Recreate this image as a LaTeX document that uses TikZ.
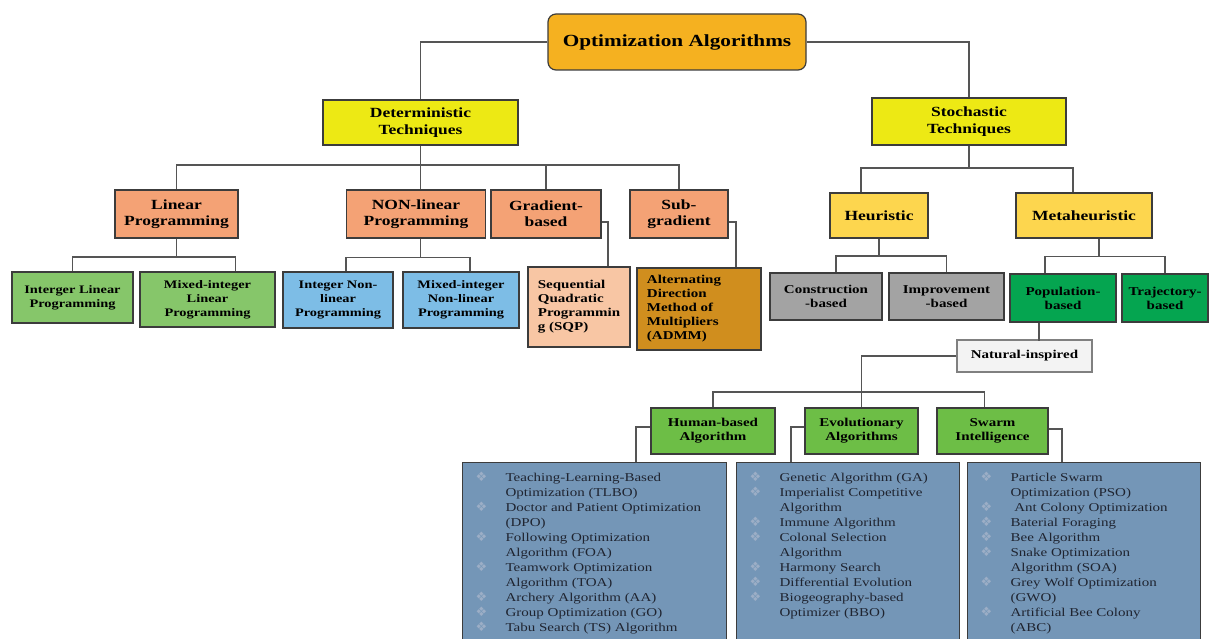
\documentclass[tikz,border=0pt]{standalone}
\usepackage{fontspec}
\setmainfont{Liberation Serif}[FakeStretch=1.25]
\newfontfamily\symfont{DejaVu Sans}
\usepackage{tikz}
\usetikzlibrary{positioning}
\usepackage{xcolor}

\definecolor{titleorange}{HTML}{F5B120}
\definecolor{detyellow}{HTML}{EDE914}
\definecolor{salmon}{HTML}{F4A275}
\definecolor{litegreen}{HTML}{86C66A}
\definecolor{liteblue}{HTML}{7DBDE6}
\definecolor{peach}{HTML}{F8C6A4}
\definecolor{admmgold}{HTML}{D08E1E}
\definecolor{heuyellow}{HTML}{FDD64E}
\definecolor{boxgray}{HTML}{A3A3A3}
\definecolor{darkgreen}{HTML}{05A550}
\definecolor{natwhite}{HTML}{F3F3F3}
\definecolor{hgreen}{HTML}{6DBE46}
\definecolor{listblue}{HTML}{7496B7}
\definecolor{boxline}{HTML}{3C3C3C}
\definecolor{linkgray}{HTML}{555555}
\definecolor{bulcol}{HTML}{9CAEC6}
\definecolor{listtext}{HTML}{1F2430}

\newcommand{\fTitle}{\fontsize{17}{20}\selectfont\bfseries}
\newcommand{\fTwo}{\fontsize{14}{17}\selectfont\bfseries}
\newcommand{\fThree}{\fontsize{14}{16}\selectfont\bfseries}
\newcommand{\fFour}{\fontsize{11.5}{14}\selectfont\bfseries}
\newcommand{\fFive}{\fontsize{12}{14}\selectfont\bfseries}
\newcommand{\fList}{\fontsize{12}{15}\selectfont}
\newcommand{\lbul}{{\symfont\fontsize{13}{13}\selectfont\textcolor{bulcol}{\char"2756}}}

\begin{document}
\begin{tikzpicture}[x=1pt,y=-1pt,
    box/.style={draw=boxline, line width=1.2pt, align=center, inner sep=2pt, text=black},
    link/.style={draw=linkgray, line width=1.8pt},
    listbox/.style={draw=boxline, line width=1.2pt, fill=listblue, anchor=north west,
        inner xsep=13pt, inner ysep=8pt, text=listtext, font=\fList}]

        % Canvas
        \useasboundingbox (0,0) rectangle (1213,639);
        \fill[white] (0,0) rectangle (1213,639);

        % Title
        \node[box, fill=titleorange, rounded corners=8pt, minimum width=258pt, minimum height=56pt, font=\fTitle]
            (opt) at (677,42) {Optimization Algorithms};

        % Second level
        \node[box, fill=detyellow, minimum width=195pt, minimum height=45pt, font=\fTwo]
            (det) at (420.5,122.5) {Deterministic\\Techniques};
        \node[box, fill=detyellow, minimum width=194pt, minimum height=47pt, font=\fTwo]
            (sto) at (969,121.5) {Stochastic\\Techniques};

        % Deterministic branch
        \node[box, fill=salmon, minimum width=123pt, minimum height=48pt, font=\fThree]
            (lin) at (176.5,214) {Linear\\Programming};
        \node[box, fill=salmon, minimum width=139pt, minimum height=48pt, font=\fThree]
            (nonlin) at (416,214) {NON-linear\\Programming};
        \node[box, fill=salmon, minimum width=110pt, minimum height=48pt, font=\fThree]
            (grad) at (546,214) {Gradient-\\based};
        \node[box, fill=salmon, minimum width=98pt, minimum height=48pt, font=\fThree]
            (sub) at (679,214) {Sub-\\gradient};

        \node[box, fill=litegreen, minimum width=121pt, minimum height=51pt, font=\fFour]
            (ilp) at (72.5,297.5) {Interger Linear\\Programming};
        \node[box, fill=litegreen, minimum width=135pt, minimum height=55pt, font=\fFour]
            (milp) at (207.5,299.5) {Mixed-integer\\Linear\\Programming};
        \node[box, fill=liteblue, minimum width=110pt, minimum height=56pt, font=\fFour]
            (inlp) at (338,300) {Integer Non-\\linear\\Programming};
        \node[box, fill=liteblue, minimum width=116pt, minimum height=56pt, font=\fFour]
            (minlp) at (461,300) {Mixed-integer\\Non-linear\\Programming};
        \node[box, fill=peach, minimum width=102pt, minimum height=80pt, align=left, inner sep=4pt, font=\fFive]
            (sqp) at (579,307) {Sequential\\Quadratic\\Programmin\\g (SQP)\hspace*{14pt}};
        \node[box, fill=admmgold, minimum width=124pt, minimum height=82pt, align=left, inner sep=4pt, font=\fFive]
            (admm) at (699,309) {Alternating\hspace*{30pt}\\Direction\\Method of\\Multipliers\\(ADMM)};

        % Stochastic branch
        \node[box, fill=heuyellow, minimum width=98pt, minimum height=45pt, font=\fThree]
            (heu) at (879,215.5) {Heuristic};
        \node[box, fill=heuyellow, minimum width=136pt, minimum height=45pt, font=\fThree]
            (meta) at (1084,215.5) {Metaheuristic};

        \node[box, fill=boxgray, minimum width=112pt, minimum height=47pt, font=\fFive]
            (cons) at (826,296.5) {Construction\\-based};
        \node[box, fill=boxgray, minimum width=115pt, minimum height=47pt, font=\fFive]
            (impr) at (946.5,296.5) {Improvement\\-based};
        \node[box, fill=darkgreen, minimum width=106pt, minimum height=48pt, font=\fFive]
            (pop) at (1063,298) {Population-\\based};
        \node[box, fill=darkgreen, minimum width=86pt, minimum height=48pt, font=\fFive]
            (traj) at (1165,298) {Trajectory-\\based};

        \node[box, fill=natwhite, draw=gray, minimum width=135pt, minimum height=32pt, font=\fFive]
            (nat) at (1024.5,356) {Natural-inspired};

        \node[box, fill=hgreen, minimum width=124pt, minimum height=46pt, font=\fFive]
            (hum) at (713,431) {Human-based\\Algorithm};
        \node[box, fill=hgreen, minimum width=113pt, minimum height=46pt, font=\fFive]
            (evo) at (861.5,431) {Evolutionary\\Algorithms};
        \node[box, fill=hgreen, minimum width=111pt, minimum height=46pt, font=\fFive]
            (swa) at (992.5,431) {Swarm\\Intelligence};

        % Algorithm lists
        \node[listbox] (lst1) at (462,462) {\parbox[c][175pt][t]{238pt}{%
            \begin{tabular}{@{}p{30pt}@{}l@{}}
            \lbul & Teaching-Learning-Based\\
                  & Optimization (TLBO)\\
            \lbul & Doctor and Patient Optimization\\
                  & (DPO)\\
            \lbul & Following Optimization\\
                  & Algorithm (FOA)\\
            \lbul & Teamwork Optimization\\
                  & Algorithm (TOA)\\
            \lbul & Archery Algorithm (AA)\\
            \lbul & Group Optimization (GO)\\
            \lbul & Tabu Search (TS) Algorithm
            \end{tabular}}};
        \node[listbox] (lst2) at (736,462) {\parbox[c][175pt][t]{197pt}{%
            \begin{tabular}{@{}p{30pt}@{}l@{}}
            \lbul & Genetic Algorithm (GA)\\
            \lbul & Imperialist Competitive\\
                  & Algorithm\\
            \lbul & Immune Algorithm\\
            \lbul & Colonal Selection\\
                  & Algorithm\\
            \lbul & Harmony Search\\
            \lbul & Differential Evolution\\
            \lbul & Biogeography-based\\
                  & Optimizer (BBO)
            \end{tabular}}};
        \node[listbox] (lst3) at (967,462) {\parbox[c][175pt][t]{207pt}{%
            \begin{tabular}{@{}p{30pt}@{}l@{}}
            \lbul & Particle Swarm\\
                  & Optimization (PSO)\\
            \lbul & \ Ant Colony Optimization\\
            \lbul & Baterial Foraging\\
            \lbul & Bee Algorithm\\
            \lbul & Snake Optimization\\
                  & Algorithm (SOA)\\
            \lbul & Grey Wolf Optimization\\
                  & (GWO)\\
            \lbul & Artificial Bee Colony\\
                  & (ABC)
            \end{tabular}}};

        % Bus levels
        \coordinate (detbus) at (0,165);
        \coordinate (linbus) at (0,257);
        \coordinate (stobus) at (0,168);
        \coordinate (heubus) at (0,256);
        \coordinate (natbus) at (0,392);

        % Connectors
        \draw[link] (opt.west) -| (det.north);
        \draw[link] (opt.east) -| (sto.north);

        \foreach \c in {lin,grad,sub} {
            \draw[link] (det.south) |- (detbus -| \c.north) -- (\c.north);
        }
        \draw[link] (det.south) -- (det.south |- detbus) -| ([xshift=4.5pt]nonlin.north);
        \draw[link] (lin.south) -- (lin.south |- linbus) -| (ilp.north);
        \draw[link] (lin.south) -- (lin.south |- linbus) -| ([xshift=28pt]milp.north);
        \draw[link] ([xshift=4.5pt]nonlin.south) -- ++(0,19) -| ([xshift=8pt]inlp.north);
        \draw[link] ([xshift=4.5pt]nonlin.south) -- ++(0,19) -| ([xshift=9pt]minlp.north);
        \draw[link] ([yshift=-8pt]grad.east) -| ([xshift=29pt]sqp.north);
        \draw[link] ([yshift=-8pt]sub.east) -| ([xshift=37pt]admm.north);

        \draw[link] (sto.south) -- (sto.south |- stobus) -| ([xshift=-18pt]heu.north);
        \draw[link] (sto.south) -- (sto.south |- stobus) -| ([xshift=-11pt]meta.north);
        \draw[link] (heu.south) -- (heu.south |- heubus) -| ([xshift=10pt]cons.north);
        \draw[link] (heu.south) -- (heu.south |- heubus) -| (impr.north);
        \draw[link] ([xshift=15pt]meta.south) -- ++(0,18) -| ([xshift=-18pt]pop.north);
        \draw[link] ([xshift=15pt]meta.south) -- ++(0,18) -| (traj.north);
        \draw[link] ([xshift=-24pt]pop.south) -- ++(0,18);

        \draw[link] (nat.west) -| (evo.north);
        \draw[link] (hum.north) -- (hum.north |- natbus) -| ([xshift=-8pt]swa.north);
        \draw[link] ([yshift=4pt]hum.west) -| ([xshift=41pt]lst1.north);
        \draw[link] ([yshift=4pt]evo.west) -| ([xshift=-57pt]lst2.north);
        \draw[link] ([yshift=2pt]swa.east) -| ([xshift=-22pt]lst3.north);
    \end{tikzpicture}
\end{document}
